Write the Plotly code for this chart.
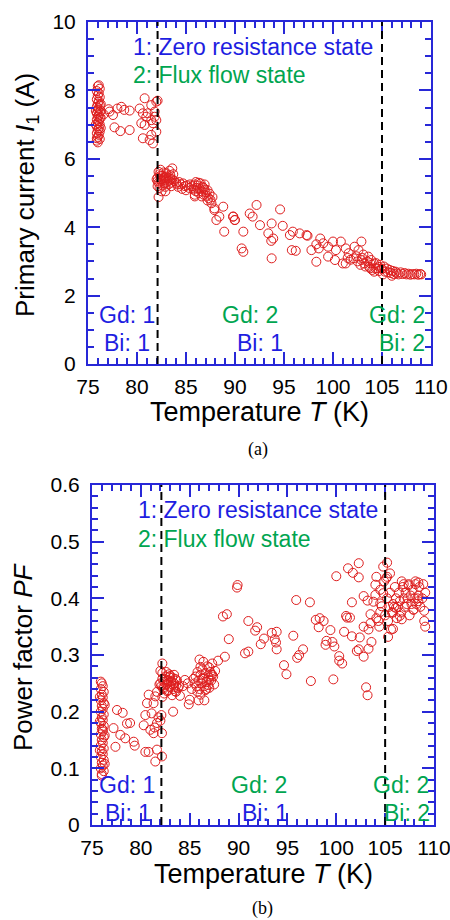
import plotly.graph_objects as go

# ---------------- data: panel (a) primary current ----------------
T_a = [
    # column at ~76 K
    76.0, 76.2, 75.9, 76.1, 76.0, 76.2, 75.9, 76.1, 76.0, 76.2, 75.9, 76.1, 76.0, 76.2, 75.9, 76.1,
    76.0, 76.2, 75.9, 76.1, 76.0, 76.2, 75.9, 76.1, 76.0, 76.2, 75.9, 76.1, 76.0, 76.2, 75.9, 76.0,
    76.3, 76.3, 76.3, 75.8, 75.8, 76.1, 75.9, 76.3,
    # sparse 76.5-80
    77.1, 77.2, 77.55, 77.7, 78.3, 78.4, 78.7, 79.25, 79.25, 76.6, 78.0,
    # 80-82.2
    80.78, 81.46, 81.97, 80.27, 80.6, 80.95, 81.46, 81.8, 80.44, 80.78, 81.63, 81.97, 80.6, 81.29,
    81.63, 81.97, 81.46, 81.1, 81.8, 82.1,
    # cluster 82-84
    82.1, 82.2, 82.3, 82.4, 82.5, 82.6, 82.7, 82.8, 82.9, 83.0, 83.1, 83.2, 83.3, 83.4, 83.5, 83.6,
    82.2, 82.4, 82.7, 83.0, 83.3, 83.6, 82.1, 82.3, 82.6, 82.9, 83.2, 83.5, 82.2, 82.5, 82.9, 83.8,
    84.0, 84.1, 82.0, 82.1, 82.8, 83.4, 82.4, 83.7,
    # trail 84-85.5
    84.3, 84.5, 84.7, 84.9, 85.1, 85.3, 85.4, 84.6, 85.0, 84.2,
    # cluster 85.5-88
    85.6, 85.8, 85.9, 86.0, 86.1, 86.2, 86.3, 86.4, 86.5, 86.6, 86.7, 86.8, 86.9, 87.0, 87.1, 87.2,
    87.3, 87.4, 86.3, 86.6, 85.9, 86.9, 87.5, 87.6, 87.7, 87.9, 86.0, 86.8, 87.2,
    87.9, 88.8, 88.1, 88.4, 88.9, 89.8, 89.97, 85.9,
    # 90-104
    89.83, 90.0, 90.85, 90.68, 90.85, 91.5, 91.8, 92.2, 92.55, 93.4, 93.74, 93.9, 93.7, 93.74, 94.6,
    94.87, 95.6, 95.9, 95.8, 96.2, 96.6, 97.3, 97.4, 97.8, 98.3, 98.3, 98.7, 99.0, 98.55, 99.5, 99.5,
    100.0, 100.3, 100.2, 100.8, 101.0, 101.3, 101.3, 101.6, 102.1, 102.2, 102.9, 102.6, 102.9, 103.2,
    103.6, 103.9, 103.7, 104.2, 104.35, 104.7,
    102.5, 102.8, 103.0, 103.3, 103.5, 103.8, 103.1, 102.4, 101.8, 101.5,
    # tail 104.5-109
    104.5, 104.7, 104.8, 105.0, 105.2, 105.3, 105.5, 105.6, 105.8, 105.9, 106.1, 106.2, 106.4, 106.5,
    106.7, 106.9, 107.1, 107.3, 107.5, 107.7, 107.9, 108.1, 108.3, 108.5, 108.7, 108.9, 109.0, 104.2,
    104.0, 103.8, 104.4, 105.1, 106.0,
]
I_a = [
    8.12, 8.05, 7.98, 7.92, 7.85, 7.80, 7.74, 7.68, 7.62, 7.57, 7.52, 7.47, 7.42, 7.37, 7.33, 7.28,
    7.23, 7.19, 7.14, 7.10, 7.05, 7.00, 6.95, 6.90, 6.85, 6.80, 6.75, 6.70, 6.64, 6.58, 6.53, 6.48,
    7.60, 7.20, 6.90, 7.40, 7.00, 8.15, 6.60, 7.40,
    7.45, 7.38, 7.28, 6.92, 6.81, 7.52, 7.43, 7.41, 6.84, 7.30, 7.47,
    7.77, 7.57, 7.67, 7.47, 7.33, 7.23, 7.13, 7.23, 7.04, 6.99, 7.04, 7.13, 6.60, 6.55,
    6.45, 6.79, 6.70, 7.33, 7.38, 7.70,
    5.45, 5.30, 5.55, 5.40, 5.35, 5.50, 5.42, 5.28, 5.38, 5.48, 5.33, 5.44, 5.36, 5.52, 5.30, 5.40,
    5.62, 5.68, 5.60, 5.58, 5.65, 5.72, 5.20, 5.15, 5.22, 5.18, 5.25, 5.20, 4.88, 5.05, 5.05, 5.35,
    5.30, 5.25, 5.40, 5.35, 5.45, 5.42, 5.50, 5.55,
    5.32, 5.25, 5.28, 5.20, 5.22, 5.15, 5.25, 5.12, 5.08, 5.18,
    5.20, 5.10, 5.25, 5.05, 5.15, 5.22, 5.00, 5.12, 5.28, 5.05, 5.18, 4.95, 5.10, 5.02, 4.92, 5.08,
    4.85, 4.98, 5.30, 4.90, 4.95, 5.25, 4.80, 4.70, 4.88, 4.55, 5.32, 5.15, 4.78,
    4.50, 4.60, 4.21, 4.31, 3.87, 4.31, 4.21, 4.90,
    4.31, 4.21, 3.87, 3.38, 3.28, 4.40, 4.31, 4.65, 4.06, 3.82, 4.11, 3.67, 3.60, 3.09, 4.52,
    4.04, 3.77, 3.87, 3.33, 3.31, 3.82, 3.77, 3.75, 3.33, 2.99, 3.50, 3.67, 3.53, 3.38, 3.43, 3.14,
    3.58, 3.33, 3.04, 3.58, 2.94, 2.94, 3.38, 3.24, 3.09, 3.43, 3.58, 3.33, 3.04, 2.94,
    3.14, 3.04, 2.84, 2.94, 2.79, 2.84,
    3.00, 2.90, 3.10, 2.85, 3.00, 2.95, 3.20, 3.15, 3.05, 3.10,
    2.80, 2.72, 2.90, 2.78, 2.85, 2.70, 2.79, 2.68, 2.75, 2.66, 2.72, 2.63, 2.70, 2.65,
    2.62, 2.68, 2.63, 2.66, 2.62, 2.64, 2.61, 2.63, 2.62, 2.64, 2.61, 2.63, 2.62, 2.70,
    2.75, 2.80, 2.95, 2.62, 2.58,
]

# ---------------- data: panel (b) power factor ----------------
T_b = [
    # column at ~76 K
    76.0, 76.1, 75.9, 76.2, 76.0, 76.1, 75.9, 76.2, 76.0, 76.1, 75.9, 76.2, 76.0, 76.1, 75.9, 76.2,
    76.0, 76.1, 75.9, 76.2, 76.0, 76.1, 75.9, 76.2, 76.0, 76.1, 75.9, 76.2, 76.0, 76.1, 75.9, 76.2,
    76.0, 76.3, 75.8, 76.3, 75.8, 76.3, 75.8, 76.1, 76.0, 75.9,
    # sparse 76.5-80
    77.56, 78.14, 78.58, 78.9, 77.2, 77.9, 78.4, 77.4, 79.27, 79.37,
    # 80-82.2
    80.46, 80.8, 81.48, 81.65, 82.16, 80.29, 80.46, 80.63, 80.8, 81.3, 81.48, 80.97, 81.3, 81.65,
    81.8, 82.0, 82.16, 81.4, 82.1, 81.65, 81.1,
    # cluster 82-84
    82.0, 82.1, 82.2, 82.3, 82.4, 82.5, 82.6, 82.7, 82.8, 82.9, 83.0, 83.1, 83.2, 83.3, 83.4, 83.5,
    83.6, 83.7, 83.8, 82.2, 82.4, 82.6, 82.8, 83.0, 83.2, 83.4, 83.6, 82.3, 82.5, 82.7, 82.9, 83.1,
    83.3, 83.5, 82.2, 83.3, 82.2, 81.9, 83.9, 82.0,
    # 84-85.5
    84.0, 84.9, 85.0, 84.5, 84.8, 84.3, 85.2, 85.4,
    # cluster 85.5-88
    85.5, 85.6, 85.7, 85.8, 85.9, 86.0, 86.1, 86.2, 86.3, 86.4, 86.5, 86.6, 86.7, 86.8, 86.9, 87.0,
    87.1, 87.2, 87.3, 87.4, 87.5, 87.6, 85.8, 86.1, 86.4, 86.7, 87.0, 87.3, 86.0, 86.3, 86.6, 86.9,
    87.2, 85.9, 86.5,
    87.0, 86.1, 88.6, 87.9, 88.8, 88.4, 89.0, 89.9, 89.84,
    # 90-104
    91.0, 93.83, 91.0, 90.66, 91.7, 91.9, 92.27, 92.6, 93.4, 93.7, 93.9, 94.65, 94.9, 93.9, 95.6,
    95.9, 96.0, 96.2, 96.6, 97.4, 97.3, 97.9, 98.3, 98.2, 98.7, 98.9, 99.6, 99.0, 99.4, 99.7, 100.0,
    99.8, 100.3, 100.3, 100.6, 100.8, 101.6, 101.0, 101.4, 101.1, 101.6, 102.1, 101.2, 101.7, 102.3,
    102.3, 102.3, 103.3, 102.4, 102.8, 102.8, 103.2, 103.05, 103.2, 102.8, 103.5, 103.6, 103.3, 103.5,
    103.8, 104.0, 104.1, 104.0, 104.5, 104.65, 104.5, 104.3, 104.4, 104.1, 104.5, 104.8, 104.8, 105.2,
    105.3, 105.8, 105.5, 105.2, 106.5, 106.7, 105.8, 106.1, 108.3, 108.1, 108.4, 106.9, 107.4, 107.9,
    108.4,
    # right cluster
    105.0, 105.2, 105.4, 105.5, 105.7, 105.8, 106.0, 106.1, 106.2, 106.3, 106.4, 106.5, 106.6, 106.8,
    106.9, 107.0, 107.1, 107.2, 107.4, 107.5, 107.6, 107.7, 107.8, 107.9, 108.0, 108.1, 108.2, 108.4,
    108.5, 108.6, 108.8, 108.9, 109.0, 109.1, 109.1, 109.0, 105.3, 105.6, 104.9, 105.1, 106.7, 107.3,
    105.9, 104.7, 104.6,
]
PF_b = [
    0.250, 0.245, 0.240, 0.235, 0.230, 0.225, 0.220, 0.215, 0.210, 0.205, 0.200, 0.195, 0.190, 0.185,
    0.180, 0.175, 0.170, 0.165, 0.160, 0.155, 0.150, 0.145, 0.140, 0.135, 0.130, 0.125, 0.120, 0.115,
    0.110, 0.105, 0.100, 0.095, 0.090, 0.212, 0.183, 0.158, 0.132, 0.108, 0.226, 0.168, 0.087, 0.253,
    0.203, 0.198, 0.179, 0.180, 0.171, 0.159, 0.153, 0.138, 0.147, 0.140,
    0.129, 0.129, 0.112, 0.133, 0.121, 0.176, 0.194, 0.215, 0.230, 0.215, 0.227, 0.168, 0.162, 0.180,
    0.190, 0.184, 0.162, 0.172, 0.194, 0.235, 0.197,
    0.250, 0.245, 0.258, 0.240, 0.252, 0.262, 0.248, 0.236, 0.255, 0.266, 0.244, 0.253, 0.260, 0.240,
    0.250, 0.258, 0.246, 0.255, 0.242, 0.268, 0.232, 0.270, 0.238, 0.263, 0.229, 0.265, 0.235, 0.243,
    0.257, 0.249, 0.261, 0.254, 0.247, 0.236, 0.285, 0.200, 0.226, 0.248, 0.245, 0.272,
    0.228, 0.213, 0.221, 0.256, 0.250, 0.245, 0.240, 0.258,
    0.250, 0.262, 0.245, 0.270, 0.255, 0.240, 0.265, 0.250, 0.275, 0.258, 0.245, 0.268, 0.252, 0.280,
    0.260, 0.242, 0.270, 0.255, 0.285, 0.262, 0.248, 0.272, 0.235, 0.230, 0.288, 0.240, 0.278, 0.265,
    0.292, 0.258, 0.238, 0.247, 0.266,
    0.220, 0.220, 0.256, 0.279, 0.297, 0.290, 0.372, 0.368, 0.328,
    0.4235, 0.419, 0.360, 0.322, 0.306, 0.303, 0.343, 0.349, 0.319, 0.329, 0.339, 0.328, 0.310, 0.282,
    0.266, 0.341, 0.334, 0.397, 0.295, 0.300, 0.310, 0.254, 0.393, 0.362, 0.365, 0.349, 0.360, 0.318,
    0.323, 0.325, 0.344, 0.257, 0.439, 0.315, 0.298, 0.290, 0.285, 0.341, 0.393, 0.369, 0.366, 0.366,
    0.333, 0.307, 0.453, 0.445, 0.437, 0.462, 0.310, 0.311, 0.331, 0.350, 0.404, 0.396, 0.243, 0.229,
    0.297, 0.372, 0.323, 0.345, 0.356, 0.394, 0.406, 0.438, 0.424, 0.415, 0.386, 0.376, 0.360, 0.350,
    0.365, 0.391, 0.409, 0.456, 0.463, 0.332, 0.346, 0.444, 0.438, 0.369, 0.363, 0.375, 0.383, 0.400,
    0.430, 0.428, 0.425, 0.423,
    0.380, 0.395, 0.370, 0.400, 0.385, 0.410, 0.375, 0.390, 0.420, 0.400, 0.365, 0.385, 0.410, 0.395,
    0.375, 0.420, 0.400, 0.385, 0.410, 0.390, 0.425, 0.370, 0.405, 0.390, 0.415, 0.380, 0.400, 0.425,
    0.390, 0.405, 0.420, 0.385, 0.400, 0.425, 0.378, 0.410, 0.350, 0.360, 0.360, 0.345, 0.430, 0.435,
    0.430, 0.400, 0.385,
]

# state boundaries (K)
boundaries = [82.1, 105.0]

legend_lines = ["1: Zero resistance state", "2: Flux flow state"]
region_gd = ["Gd: 1", "Gd: 2", "Gd: 2"]
region_bi = ["Bi: 1", "Bi: 1", "Bi: 2"]

BLUE = "rgb(30,30,225)"
GREEN = "rgb(0,165,80)"
RED = "rgb(222,30,30)"
AXC = "rgb(40,40,215)"
FONT = "Liberation Sans, Arial, sans-serif"

W, H = 450, 920

def px(x):
    return x / W

def py(y):
    return 1 - y / H

fig = go.Figure()
fig.add_trace(go.Scatter(x=T_a, y=I_a, mode="markers", xaxis="x", yaxis="y",
                         marker=dict(symbol="circle-open", size=9, color=RED, line=dict(width=1)),
                         showlegend=False))
fig.add_trace(go.Scatter(x=T_b, y=PF_b, mode="markers", xaxis="x2", yaxis="y2",
                         marker=dict(symbol="circle-open", size=9, color=RED, line=dict(width=1)),
                         showlegend=False))

def xax(dom, anchor):
    return dict(domain=dom, anchor=anchor, range=[75, 110], tick0=75, dtick=5,
                ticks="inside", ticklen=12, tickwidth=1.5, tickcolor=AXC,
                minor=dict(dtick=1, ticks="inside", ticklen=6, tickwidth=1.5, tickcolor=AXC),
                showline=True, linecolor=AXC, linewidth=2, mirror="ticks",
                showgrid=False, zeroline=False, ticklabelstandoff=3,
                ticklabeloverflow="allow",
                tickfont=dict(family=FONT, size=21, color="black"))

def yax(dom, anchor, rng, dt, mdt):
    return dict(domain=dom, anchor=anchor, range=rng, tick0=0, dtick=dt,
                ticks="inside", ticklen=12, tickwidth=1.5, tickcolor=AXC,
                minor=dict(dtick=mdt, ticks="inside", ticklen=6, tickwidth=1.5, tickcolor=AXC),
                showline=True, linecolor=AXC, linewidth=2, mirror="ticks",
                showgrid=False, zeroline=False, ticklabelstandoff=6,
                ticklabeloverflow="allow",
                tickfont=dict(family=FONT, size=21, color="black"))

fig.update_layout(
    width=W, height=H, margin=dict(l=0, r=0, t=0, b=0, autoexpand=False),
    paper_bgcolor="white", plot_bgcolor="white",
    xaxis=xax([px(88), px(431)], "y"),
    yaxis=yax([py(364), py(22)], "x", [0, 10], 2, 0.5),
    xaxis2=xax([px(92), px(434)], "y2"),
    yaxis2=yax([py(825), py(485)], "x2", [0, 0.6], 0.1, 0.02),
)

# dashed boundaries
for xr, yr in [("x", "y domain"), ("x2", "y2 domain")]:
    for b in boundaries:
        fig.add_shape(type="line", xref=xr, yref=yr, x0=b, x1=b, y0=0, y1=1,
                      line=dict(color="black", width=2, dash="8px,5px"))

ann = []
def txt(x, y, s, color, size, xanchor="center", angle=0, family=FONT):
    ann.append(dict(x=px(x), y=py(y), xref="paper", yref="paper", text=s, showarrow=False,
                    xanchor=xanchor, yanchor="middle", textangle=angle,
                    font=dict(family=family, size=size, color=color)))

# panel (a)
txt(131, 47, legend_lines[0], BLUE, 23, "left")
txt(131, 75, legend_lines[1], GREEN, 23, "left")
txt(127, 315, region_gd[0], BLUE, 23)
txt(127, 343, region_bi[0], BLUE, 23)
txt(250, 315, region_gd[1], GREEN, 23)
txt(260, 343, region_bi[1], BLUE, 23)
txt(397, 315, region_gd[2], GREEN, 23)
txt(402, 343, region_bi[2], GREEN, 23)
txt(27, 195, "Primary current <i>I</i><sub>1</sub> (A)", "black", 26, angle=-90)
txt(259, 412, "Temperature <i>T</i> (K)", "black", 27)
txt(258, 450, "(a)", "black", 18, family="Liberation Serif, Times New Roman, serif")

# panel (b)
txt(136, 510, legend_lines[0], BLUE, 23, "left")
txt(136, 539, legend_lines[1], GREEN, 23, "left")
txt(127, 785, region_gd[0], BLUE, 23)
txt(128, 813, region_bi[0], BLUE, 23)
txt(259, 785, region_gd[1], GREEN, 23)
txt(265, 813, region_bi[1], BLUE, 23)
txt(401, 785, region_gd[2], GREEN, 23)
txt(407, 813, region_bi[2], GREEN, 23)
txt(23, 657, "Power factor <i>PF</i>", "black", 26, angle=-90)
txt(263, 874, "Temperature <i>T</i> (K)", "black", 27)
txt(262, 908, "(b)", "black", 18, family="Liberation Serif, Times New Roman, serif")

fig.update_layout(annotations=ann)
fig.write_html("out.html", config={"displayModeBar": False},
               post_script="document.body.style.margin='0';document.body.style.overflow='hidden';")
